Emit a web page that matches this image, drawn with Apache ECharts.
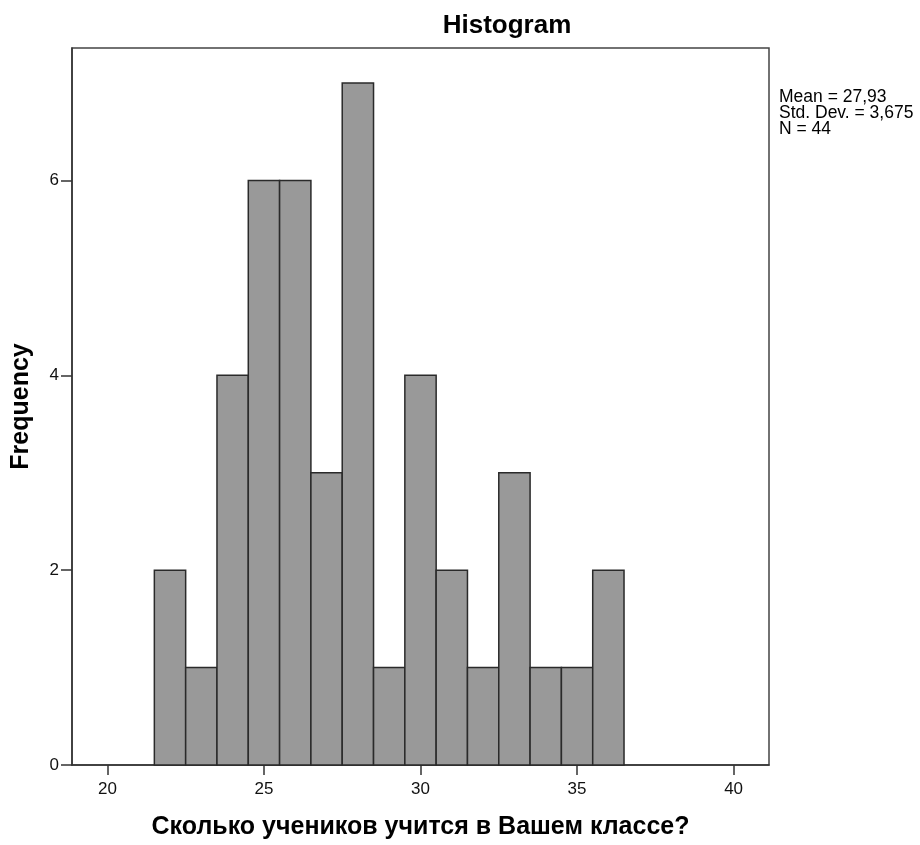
<!DOCTYPE html>
<html>
<head>
<meta charset="utf-8">
<script src="https://cdn.jsdelivr.net/npm/echarts@6/dist/echarts.min.js"></script>
<style>
  html, body { margin: 0; padding: 0; background: #fff; }
  #chart { width: 920px; height: 845px; }
</style>
</head>
<body>
<div id="chart"></div>
<script>
// Class size histogram: bin centres (width 1) and frequencies
const binCenters = [22, 23, 24, 25, 26, 27, 28, 29, 30, 31, 32, 33, 34, 35, 36];
const frequencies = [2, 1, 4, 6, 6, 3, 7, 1, 4, 2, 1, 3, 1, 1, 2];
const binWidth = 1;
const xTicks = [20, 25, 30, 35, 40];
const yTicks = [0, 2, 4, 6];
const statsLines = ['Mean = 27,93', 'Std. Dev. = 3,675', 'N = 44'];

const FONT = '"Liberation Sans", Arial, sans-serif';
const chart = echarts.init(document.getElementById('chart'));

const barData = binCenters.map((c, i) => [c - binWidth / 2, c + binWidth / 2, frequencies[i]]);

chart.setOption({
  animation: false,
  backgroundColor: '#fff',
  title: {
    text: 'Histogram',
    left: 507,
    top: 13,
    padding: 0,
    textAlign: 'center',
    textStyle: { fontFamily: FONT, fontSize: 26, fontWeight: 'bold', color: '#000' }
  },
  grid: {
    left: 72, right: 151, top: 48, bottom: 79,
    show: true, borderColor: '#444', borderWidth: 1.5, backgroundColor: '#fff'
  },
  xAxis: {
    type: 'value',
    min: 18.87,
    max: 41.13,
    name: 'Сколько учеников учится в Вашем классе?',
    nameLocation: 'middle',
    nameGap: 50,
    nameMoveOverlap: false,
    nameTextStyle: { fontFamily: FONT, fontSize: 25, fontWeight: 'bold', color: '#000', verticalAlign: 'top' },
    axisLine: { show: true, lineStyle: { color: '#333', width: 1.5 } },
    axisTick: { show: true, customValues: xTicks, length: 10, inside: false, lineStyle: { color: '#333', width: 1.5 } },
    axisLabel: { customValues: xTicks, fontFamily: FONT, fontSize: 17, color: '#111', margin: 16 },
    splitLine: { show: false }
  },
  yAxis: {
    type: 'value',
    min: 0,
    max: 7.36,
    name: 'Frequency',
    nameLocation: 'middle',
    nameGap: 38,
    nameMoveOverlap: false,
    nameTextStyle: { fontFamily: FONT, fontSize: 25, fontWeight: 'bold', color: '#000' },
    axisLine: { show: true, lineStyle: { color: '#333', width: 1.5 } },
    axisTick: { show: true, customValues: yTicks, length: 11, inside: false, lineStyle: { color: '#333', width: 1.5 } },
    axisLabel: { customValues: yTicks, fontFamily: FONT, fontSize: 17, color: '#111', margin: 13 },
    splitLine: { show: false }
  },
  graphic: [{
    type: 'text',
    left: 779,
    top: 88,
    style: {
      text: statsLines.join('\n'),
      fontFamily: FONT,
      fontSize: 17.5,
      lineHeight: 16,
      fill: '#000'
    }
  }],
  series: [{
    type: 'custom',
    data: barData,
    encode: { x: [0, 1], y: 2 },
    renderItem: function (params, api) {
      const p0 = api.coord([api.value(0), api.value(2)]);
      const p1 = api.coord([api.value(1), 0]);
      return {
        type: 'rect',
        shape: { x: p0[0], y: p0[1], width: p1[0] - p0[0], height: p1[1] - p0[1] },
        style: { fill: '#999999', stroke: '#2a2a2a', lineWidth: 1.5 }
      };
    }
  }]
});
</script>
</body>
</html>
